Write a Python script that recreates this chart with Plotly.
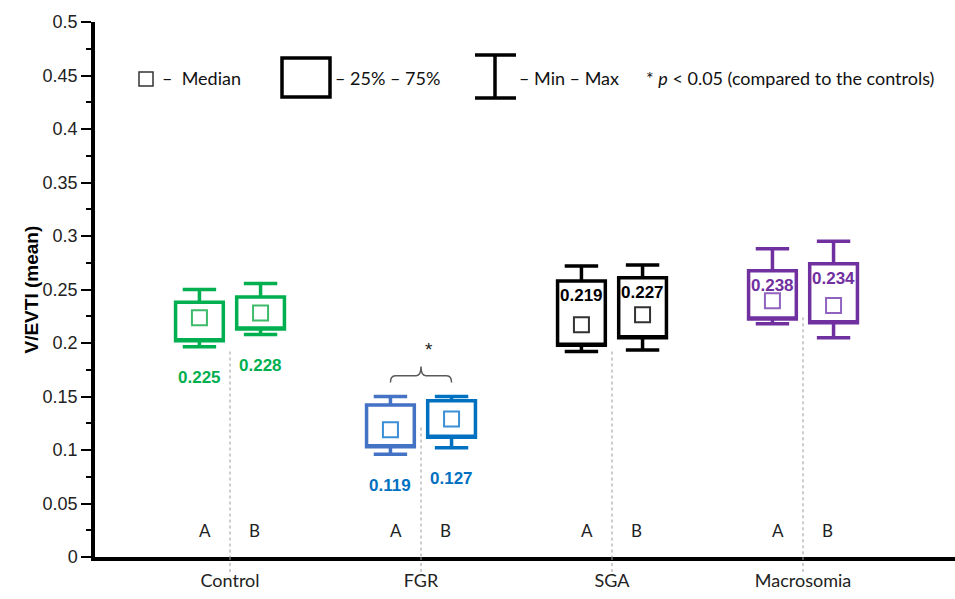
import plotly.graph_objects as go

# ---------------- data ----------------
groups = ["Control", "FGR", "SGA", "Macrosomia"]
subgroups = ["A", "B"]

upper_A = [0.250, 0.150, 0.272, 0.288]
q3_A = [0.238, 0.142, 0.258, 0.2675]
median_A = [0.2235, 0.119, 0.217, 0.2395]
q1_A = [0.202, 0.103, 0.198, 0.2225]
lower_A = [0.1965, 0.096, 0.192, 0.218]

upper_B = [0.2555, 0.150, 0.273, 0.295]
q3_B = [0.243, 0.146, 0.261, 0.274]
median_B = [0.228, 0.129, 0.2265, 0.235]
q1_B = [0.213, 0.112, 0.205, 0.219]
lower_B = [0.208, 0.102, 0.1935, 0.205]

label_A = ["0.225", "0.119", "0.219", "0.238"]
label_B = ["0.228", "0.127", "0.227", "0.234"]

divider_top = [0.192, 0.121, 0.192, 0.224]

y_ticks = [0, 0.05, 0.1, 0.15, 0.2, 0.25, 0.3, 0.35, 0.4, 0.45, 0.5]

# ---------------- style ----------------
box_colors_A = ["#00B050", "#4472C4", "#000000", "#7030A0"]
box_colors_B = ["#00B050", "#0070C0", "#000000", "#7030A0"]
median_colors = ["#3DBB6A", "#3A8FD6", "#333333", "#9063C0"]
text_colors = ["#00B050", "#0070C0", "#000000", "#7030A0"]
label_place = ["below", "below", "inside", "inside"]
offset = 0.16
box_w = 0.25

SANS = "Liberation Sans, Arial, sans-serif"
CAL = "Lato, Open Sans, sans-serif"

W, H = 955, 599
ML, MR, MT, MB = 95, 0, 22, 42


def px(x):
    return (x - ML) / (W - ML - MR)


def py(y):
    return (H - MB - y) / (H - MT - MB)


fig = go.Figure()
annotations = []
shapes = []

for i, g in enumerate(groups):
    series = [
        (-offset, upper_A[i], q3_A[i], median_A[i], q1_A[i], lower_A[i], label_A[i], box_colors_A[i], "A"),
        (offset, upper_B[i], q3_B[i], median_B[i], q1_B[i], lower_B[i], label_B[i], box_colors_B[i], "B"),
    ]
    for off, up, q3, med, q1, lo, lab, col, sg in series:
        x = i + off
        fig.add_trace(go.Box(
            x=[x], q1=[q1], median=[q1], q3=[q3], lowerfence=[lo], upperfence=[up],
            width=box_w, whiskerwidth=0.7, boxpoints=False,
            line=dict(color=col, width=3.5), fillcolor="rgba(0,0,0,0)",
            hoverinfo="skip", showlegend=False,
        ))
        fig.add_trace(go.Scatter(
            x=[x], y=[med], mode="markers",
            marker=dict(symbol="square-open", size=15, color=median_colors[i],
                        line=dict(width=2)),
            hoverinfo="skip", showlegend=False,
        ))
        if label_place[i] == "below":
            ly, ys = lo, -31
        else:
            ly, ys = q3, -15
        annotations.append(dict(
            x=x, y=ly, yshift=ys, text=lab, showarrow=False, yanchor="middle",
            font=dict(family=SANS, size=17, color=text_colors[i], weight="bold"),
        ))
        annotations.append(dict(
            x=i + (-0.13 if sg == "A" else 0.13), y=0.025, text=sg, showarrow=False,
            font=dict(family=CAL, size=17, color="#222222"),
        ))
    # divider
    shapes.append(dict(type="line", xref="x", yref="y", x0=i, x1=i, y0=divider_top[i], y1=0,
                       line=dict(color="#9A9A9A", width=1, dash="3px,3px")))
    shapes.append(dict(type="line", xref="x", yref="paper", x0=i, x1=i, y0=0, y1=-0.034,
                       line=dict(color="#9A9A9A", width=1, dash="3px,3px")))

# brace over FGR
gi = 1
x0, x1, xc = gi - offset, gi + offset, gi
yb = max(upper_A[gi], upper_B[gi]) + 0.013
yh = yb + 0.0065
yt = yh + 0.0085
d = 0.025
path = (f"M {x0},{yb} Q {x0},{yh} {x0 + d},{yh} L {xc - d},{yh} Q {xc},{yh} {xc},{yt} "
        f"Q {xc},{yh} {xc + d},{yh} L {x1 - d},{yh} Q {x1},{yh} {x1},{yb}")
shapes.append(dict(type="path", xref="x", yref="y", path=path,
                   line=dict(color="#5A5A5A", width=1.5)))
annotations.append(dict(x=xc + 0.04, y=yt + 0.016, text="*", showarrow=False,
                        font=dict(family=SANS, size=19, color="#222222")))

# legend (drawn)
shapes += [
    dict(type="rect", xref="paper", yref="paper", x0=px(139), x1=px(153), y0=py(86), y1=py(72),
         line=dict(color="#333333", width=1.5)),
    dict(type="rect", xref="paper", yref="paper", x0=px(282), x1=px(330), y0=py(97), y1=py(58),
         line=dict(color="#000000", width=3.5)),
    dict(type="line", xref="paper", yref="paper", x0=px(495), x1=px(495), y0=py(98), y1=py(55),
         line=dict(color="#000000", width=3.5)),
    dict(type="line", xref="paper", yref="paper", x0=px(475), x1=px(516), y0=py(55), y1=py(55),
         line=dict(color="#000000", width=3.5)),
    dict(type="line", xref="paper", yref="paper", x0=px(475), x1=px(516), y0=py(98), y1=py(98),
         line=dict(color="#000000", width=3.5)),
]
legend_texts = [
    (160, "–  Median"),
    (333, "– 25% – 75%"),
    (517, "– Min – Max"),
    (644, "* <i>p</i> < 0.05 (compared to the controls)"),
]
for lx, t in legend_texts:
    annotations.append(dict(xref="paper", yref="paper", x=px(lx), y=py(78), text=t,
                            xanchor="left", yanchor="middle", showarrow=False,
                            font=dict(family=CAL, size=18, color="#111111")))

# y axis title
annotations.append(dict(xref="paper", yref="paper", x=px(31), y=0.5, text="V/EVTI (mean)",
                        textangle=-90, showarrow=False, xanchor="center", yanchor="middle",
                        font=dict(family=SANS, size=19, color="#000000", weight="bold")))

fig.update_layout(
    width=W, height=H,
    margin=dict(l=ML, r=MR, t=MT, b=MB),
    paper_bgcolor="white", plot_bgcolor="white",
    boxmode="overlay",
    showlegend=False,
    shapes=shapes,
    annotations=annotations,
    xaxis=dict(
        range=[-0.7068, 3.7958], tickvals=list(range(len(groups))), ticktext=groups,
        ticks="", showgrid=False, zeroline=False, showline=True, linecolor="black",
        linewidth=3.5, tickfont=dict(family=CAL, size=18, color="#222222"),
        ticklabelstandoff=5, automargin=False,
    ),
    yaxis=dict(
        range=[0, 0.5], tickvals=y_ticks, ticktext=[f"{v:g}" for v in y_ticks],
        ticks="outside", ticklen=10, tickwidth=1.5, tickcolor="black",
        minor=dict(dtick=0.025, ticks="outside", ticklen=5, tickwidth=1.5, tickcolor="black"),
        showgrid=False, zeroline=False, showline=True, linecolor="black", linewidth=3.5,
        tickfont=dict(family=SANS, size=18, color="#222222"), automargin=False,
    ),
)

fig.write_html("out.html", config={"displayModeBar": False},
               post_script="document.body.style.margin='0';document.body.style.overflow='hidden';")
